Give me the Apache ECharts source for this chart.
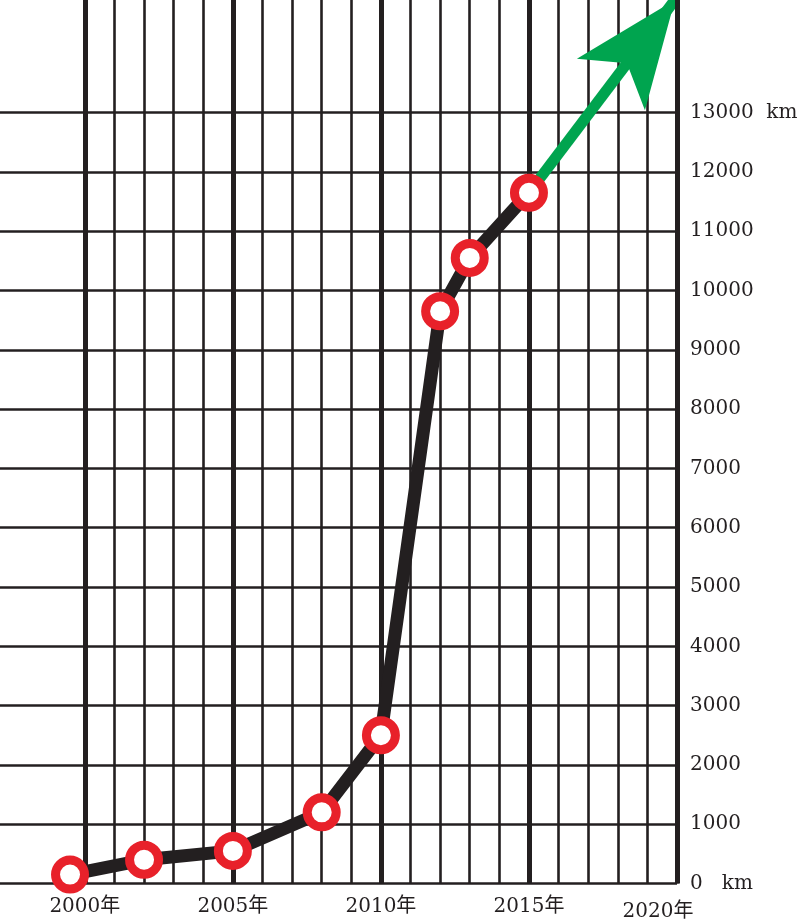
<!DOCTYPE html>
<html>
<head>
<meta charset="utf-8">
<script src="https://cdn.jsdelivr.net/npm/echarts@6/dist/echarts.min.js"></script>
<style>html,body{margin:0;padding:0;background:#fff;}#c{width:800px;height:919px;}</style>
</head>
<body>
<div id="c"></div>
<script>
// ---- data ----
const years = [1999.5, 2002, 2005, 2008, 2010, 2012, 2013, 2015];
const lengthsKm = [150, 400, 550, 1200, 2500, 9650, 10550, 11650];
const majorYears = [2000, 2005, 2010, 2015, 2020];
const yTicks = [0, 1000, 2000, 3000, 4000, 5000, 6000, 7000, 8000, 9000, 10000, 11000, 12000, 13000];
const arrowFrom = [2015, 11650];
const arrowTo = [2019.93, 14900];

const INK = '#231f20';
const RED = '#e8212a';
const GREEN = '#00a44f';
const FONT = "'DejaVu Serif', 'Noto Sans CJK SC', serif";

const xMin = 1997, xMax = 2020;
const xColors = [];
for (let v = xMin; v <= xMax; v++) xColors.push(v < majorYears[0] ? 'transparent' : INK);
const yMax = 14900;
const yColors = [];
for (let v = 0; v <= 15000; v += 1000) yColors.push(yTicks.indexOf(v) >= 0 ? INK : 'transparent');

const chart = echarts.init(document.getElementById('c'), null, {renderer: 'canvas'});
chart.setOption({
  animation: false,
  backgroundColor: '#fff',
  grid: {left: -4, right: 123, top: 0, bottom: 35.5, containLabel: false, outerBoundsMode: 'none'},
  xAxis: {
    type: 'value', min: xMin, max: xMax, interval: 1,
    axisLine: {show: false}, axisTick: {show: false},
    splitLine: {show: true, lineStyle: {color: xColors, width: 2.6}},
    axisLabel: {
      margin: 13, color: INK, fontFamily: FONT, fontSize: 20,
      formatter: function (v) {
        if (v === 2020) return '{s|2020年}';
        return majorYears.indexOf(v) >= 0 ? v + '年' : '';
      },
      rich: {s: {fontFamily: FONT, fontSize: 20, color: INK, padding: [5, 38, 0, 0]}}
    }
  },
  yAxis: {
    type: 'value', position: 'right', min: 0, max: yMax, interval: 1000,
    axisLine: {show: false}, axisTick: {show: false},
    splitLine: {show: true, lineStyle: {color: yColors, width: 2.6}},
    axisLabel: {
      margin: 13, color: INK, fontFamily: FONT, fontSize: 20,
      formatter: function (v) {
        if (yTicks.indexOf(v) < 0) return '';
        if (v === 0) return '0   km';
        if (v === yTicks[yTicks.length - 1]) return v + '  km';
        return String(v);
      }
    }
  },
  series: [
    {
      type: 'line', data: [], z: 1, silent: true,
      markLine: {
        silent: true, symbol: ['none', 'none'], label: {show: false},
        lineStyle: {color: INK, width: 5, type: 'solid'},
        data: majorYears.map(y => ({xAxis: y}))
      }
    },
    {
      type: 'lines', coordinateSystem: 'cartesian2d', z: 3, silent: true,
      symbol: ['none', 'arrow'], symbolSize: [0, [64, 106]], symbolOffset: [0, [0, 53]],
      lineStyle: {color: GREEN, width: 11, opacity: 1},
      itemStyle: {color: GREEN},
      data: [{coords: [arrowFrom, arrowTo]}]
    },
    {
      type: 'line', z: 5, silent: true,
      data: years.map((y, i) => [y, lengthsKm[i]]),
      lineStyle: {color: INK, width: 13, join: 'round', cap: 'round'},
      symbol: 'circle', symbolSize: 29, showAllSymbol: true,
      itemStyle: {color: '#fff', borderColor: RED, borderWidth: 9}
    }
  ]
});
</script>
</body>
</html>
